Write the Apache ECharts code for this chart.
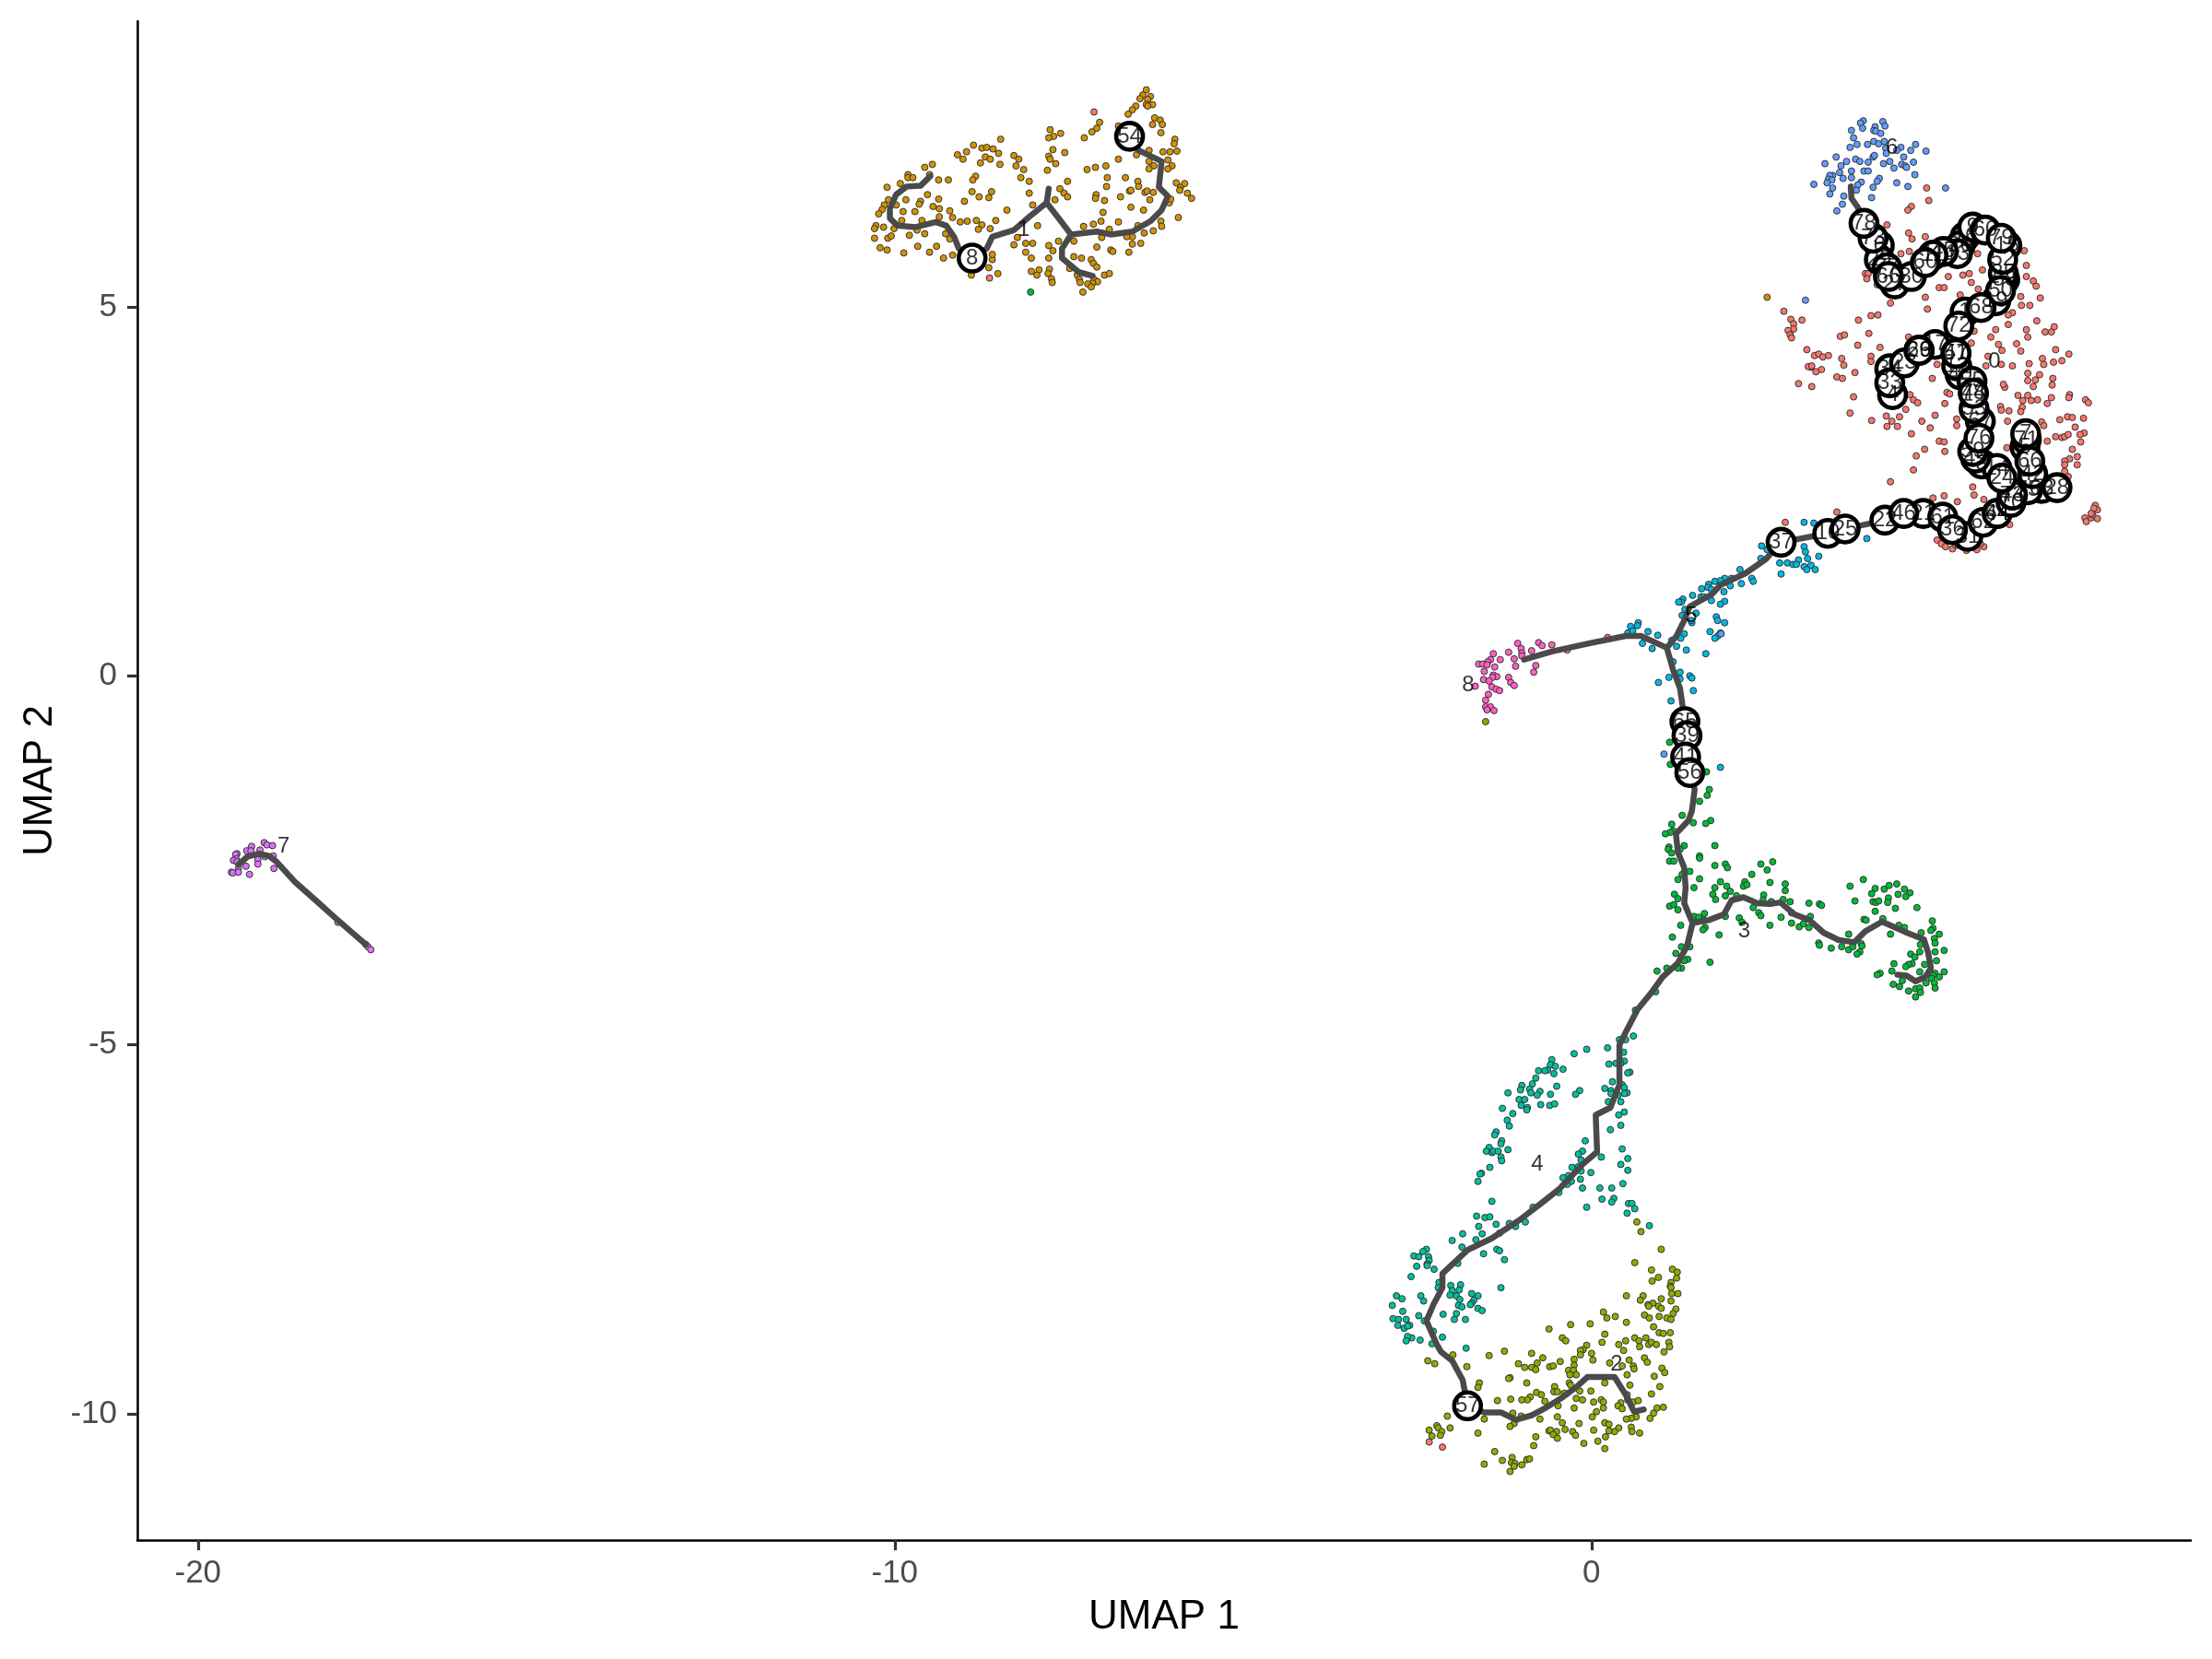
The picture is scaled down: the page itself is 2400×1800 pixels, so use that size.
<!DOCTYPE html>
<html>
<head>
<meta charset="utf-8">
<style>html,body{margin:0;padding:0;background:#fff}#c{width:2400px;height:1800px}</style>
<script src="https://cdn.jsdelivr.net/npm/echarts@6/dist/echarts.min.js"></script>
</head>
<body>
<div id="c"></div>
<script>
const xTicks = [-20, -10, 0];
const yTicks = [-10, -5, 0, 5];
const clusterColors = ['#F8766D','#D39200','#93AA00','#00BA38','#00C19F','#00B9E3','#619CFF','#DB72FB','#FF61C3'];

const cluster0 = [[4.81,6.61],[4.84,6.44],[4.59,6.36],[4.54,6.31],[4.24,6.11],[4.55,6.0],[4.60,5.92],[4.79,5.95],[4.44,5.72],[4.56,5.75],[5.12,5.41],[5.33,5.43],[5.42,5.45],[3.93,5.45],[3.97,5.45],[3.95,5.38],[4.10,5.30],[5.45,5.33],[4.99,5.26],[5.06,5.26],[5.55,5.24],[4.79,5.13],[4.82,4.97],[4.29,5.05],[5.29,5.16],[6.21,5.76],[5.54,5.72],[5.61,5.50],[6.24,5.56],[6.34,5.35],[6.38,5.28],[6.24,5.41],[6.44,5.12],[6.16,5.14],[6.29,5.02],[6.17,5.02],[6.04,4.92],[5.98,4.89],[6.39,4.81],[5.98,4.76],[5.80,4.69],[5.73,4.59],[6.24,4.69],[6.26,4.59],[6.51,4.66],[6.60,4.66],[6.64,4.73],[6.10,4.50],[6.16,4.40],[5.84,4.49],[5.89,4.41],[6.66,4.42],[6.85,4.36],[6.75,4.27],[6.47,4.30],[6.49,4.22],[6.63,4.25],[6.28,4.23],[6.04,4.20],[5.88,4.22],[5.66,4.20],[5.69,4.33],[5.45,4.51],[5.49,4.67],
[2.76,4.94],[2.86,4.83],[2.90,4.77],[2.90,4.70],[2.82,4.68],[2.85,4.62],[2.87,4.58],[3.02,4.82],[3.09,4.42],[3.20,4.34],[3.26,4.36],[3.32,4.32],[3.40,4.34],[3.57,4.60],[3.63,4.62],[3.83,4.82],[4.01,4.88],[4.11,4.89],[3.98,4.64],[3.82,4.48],[4.14,4.45],[4.01,4.33],[4.01,4.26],[3.59,4.30],[3.62,4.21],[3.15,4.18],[4.55,4.59],[4.96,4.22],
[3.30,4.15],[3.22,4.12],[3.11,4.19],[3.16,4.20],[3.52,4.05],[3.60,4.03],[3.78,4.11],[2.97,3.96],[3.16,3.92],[3.76,3.78],[3.71,3.56],[4.02,3.46],[4.23,3.52],[4.42,3.51],[4.31,3.45],[4.24,3.38],[4.39,3.38],[4.51,3.61],[4.62,3.74],[4.68,3.70],[4.57,3.81],[4.89,4.03],[5.07,3.69],[4.93,3.53],[4.74,3.45],[4.86,3.36],[4.59,3.28],[4.99,3.18],[5.06,3.17],[4.78,3.07],[4.66,2.98],[5.07,3.04],[4.62,2.79],[4.29,2.63],[5.24,3.48],[5.24,3.39],[5.10,3.84],[5.14,3.82],
[6.26,4.10],[6.43,4.08],[6.37,4.01],[6.26,4.0],[6.62,4.03],[6.61,3.94],[6.34,3.92],[5.93,3.91],[5.91,3.95],[6.12,3.80],[6.26,3.80],[6.40,3.74],[6.19,3.73],[6.31,3.73],[6.60,3.77],[6.54,3.69],[6.86,3.81],[6.85,3.77],[7.09,3.74],[7.13,3.70],[5.87,3.65],[5.88,3.60],[5.99,3.59],[6.18,3.64],[6.16,3.58],[5.97,3.45],[6.46,3.44],[6.49,3.39],[6.72,3.47],[6.83,3.51],[6.90,3.50],[7.06,3.49],[6.94,3.37],[7.07,3.29],[7.01,3.27],[7.02,3.17],[6.66,3.24],[6.75,3.23],[6.79,3.24],[6.84,3.27],[6.54,3.18],[6.90,3.07],[6.86,2.94],[6.97,2.97],[6.97,2.86],[6.79,2.91],[6.79,2.86],[6.79,2.77],[6.84,2.70],[5.96,3.09],[5.47,2.56],[5.49,2.45],[4.90,2.41],[5.06,2.44],[5.25,2.36],[5.63,2.39],[6.0,2.05],[7.08,2.14],[7.10,2.09],[7.17,2.14],[7.19,2.18],[7.23,2.31],[7.26,2.25],[7.26,2.13],[7.21,2.27],[7.17,2.20],[4.96,1.84],[5.02,1.79],[5.08,1.75],[5.18,1.72],[5.23,1.77],[5.26,1.77],[5.38,1.70],[5.53,1.71],[5.63,1.75],[5.58,1.79],[3.52,2.22],[2.78,2.08],
[-7.14,7.64],[-8.64,5.39],[-2.33,-10.38],[-2.14,-10.45]];

const cluster1 = [[-6.39,7.94],[-6.44,7.87],[-6.48,7.82],[-6.33,7.85],[-6.37,7.81],[-6.39,7.74],[-6.30,7.74],[-6.37,7.72],[-6.54,7.72],[-6.59,7.67],[-6.65,7.61],[-7.06,7.50],[-7.10,7.42],[-7.17,7.37],[-7.28,7.29],[-6.79,7.45],[-6.27,7.56],[-6.19,7.53],[-6.16,7.47],[-6.30,7.47],[-6.18,7.36],[-5.98,7.27],[-5.99,7.21],[-5.95,7.11],[-6.05,7.10],[-6.15,7.10],[-6.35,7.12],[-6.53,7.06],[-6.79,7.0],[-6.35,6.97],[-6.08,6.99],[-6.02,6.91],[-6.28,6.91],[-6.35,6.87],[-6.08,6.87],[-6.97,6.91],[-7.12,6.89],[-7.24,6.86],[-6.95,6.75],[-6.69,6.75],[-6.51,6.70],[-6.50,6.63],[-6.96,6.63],[-7.52,6.70],[-7.56,7.09],[-7.62,7.35],[-7.72,7.31],[-7.79,7.29],[-7.77,7.40],[-7.73,7.13],[-7.79,7.04],[-7.77,7.0],[-7.69,6.94],[-7.81,6.85],[-8.29,7.05],[-8.22,7.0],[-8.26,6.91],[-8.15,6.86],[-8.19,6.75],[-8.07,6.70],[-8.07,6.54],[-8.48,7.27],[-8.87,7.19],[-8.75,7.15],[-8.68,7.16],[-8.59,7.14],[-8.51,7.08],[-9.10,7.06],[-8.97,7.10],[-9.02,7.0],[-8.70,7.03],[-8.63,7.0],[-8.77,6.95],[-8.49,6.93],[-9.46,6.93],[-9.57,6.89],[-9.50,6.79],[-9.81,6.79],[-9.81,6.75],[-9.74,6.75],[-9.92,6.67],[-9.37,6.72],[-9.23,6.72],[-8.84,6.77],[-8.88,6.72],[-10.11,6.62],[-8.89,6.56],[-8.61,6.56],[-8.65,6.48],[-8.79,6.49],[-9.0,6.43],[-9.53,6.52],[-9.37,6.46],[-9.63,6.43],[-9.65,6.39],[-9.84,6.45],[-10.09,6.45],[-10.15,6.38],[-10.18,6.32],[-10.23,6.26],[-9.98,6.38],[-9.88,6.29],[-9.71,6.29],[-9.45,6.36],[-9.36,6.33],[-9.21,6.30],[-9.17,6.21],[-9.36,6.22],[-9.61,6.17],[-9.90,6.17],[-10.01,6.06],[-10.16,6.08],[-10.27,6.10],[-10.29,6.06],[-10.29,5.93],[-10.10,5.93],[-10.05,5.96],[-9.79,5.97],[-9.68,6.04],[-9.57,5.99],[-9.27,5.99],[-9.21,5.92],[-9.06,6.15],[-8.96,6.16],[-8.83,6.17],[-8.75,6.11],[-8.80,6.05],[-8.63,6.06],[-8.55,6.17],[-8.39,6.31],[-8.02,6.38],[-7.95,6.10],[-8.29,5.84],[-8.24,5.94],[-8.12,5.86],[-8.02,5.86],[-8.12,5.74],[-8.04,5.66],[-8.04,5.48],[-7.93,5.50],[-7.96,5.43],[-7.78,5.51],[-7.80,5.45],[-7.75,5.38],[-7.74,5.33],[-7.79,5.66],[-7.79,5.83],[-7.73,5.76],[-7.65,5.89],[-7.63,6.60],[-7.57,6.54],[-7.52,6.49],[-7.70,6.45],[-7.43,5.68],[-7.32,5.66],[-7.18,5.64],[-7.15,5.59],[-7.10,5.54],[-7.49,5.52],[-7.38,5.43],[-7.35,5.37],[-7.34,5.33],[-7.14,5.37],[-7.09,5.34],[-7.16,5.32],[-7.23,5.31],[-7.18,5.27],[-7.30,5.2],[-6.99,5.43],[-6.92,5.45],[-7.10,5.81],[-6.90,5.77],[-6.87,5.75],[-6.64,5.74],[-6.59,5.85],[-6.47,5.86],[-6.79,6.15],[-7.04,6.16],[-7.15,6.12],[-7.29,6.09],[-7.01,6.28],[-6.99,6.44],[-7.11,6.52],[-7.12,6.47],[-6.76,6.49],[-6.61,6.35],[-6.43,6.31],[-6.63,6.57],[-6.61,6.58],[-6.41,6.55],[-6.38,6.57],[-6.29,6.55],[-6.34,6.45],[-6.06,6.41],[-6.04,6.46],[-5.96,6.68],[-5.90,6.62],[-5.91,6.58],[-5.84,6.67],[-5.80,6.54],[-5.74,6.47],[-5.93,6.21],[-6.18,6.16],[-6.17,6.09],[-6.29,6.03],[-6.42,6.0],[-6.51,6.10],[-6.59,5.95],[-6.67,5.95],[-6.92,6.05],[-7.03,5.94],[-7.43,5.89],[-10.21,5.80],[-10.11,5.77],[-9.87,5.73],[-9.67,5.82],[-9.50,5.74],[-9.40,5.82],[-9.30,5.66],[-9.17,5.70],[-8.90,5.43],[-8.65,5.53],[-8.60,5.64],[-8.60,5.71],[-8.52,5.45],[2.52,5.13]];

const cluster2 = [[1.0,-7.77],[.62,-7.95],[.86,-8.05],[1.16,-8.04],[1.23,-8.08],[.96,-8.15],[.87,-8.20],[1.22,-8.16],[1.14,-8.22],[1.13,-8.27],[1.14,-8.29],[1.15,-8.37],[1.24,-8.37],[.74,-8.40],[.50,-8.40],[.70,-8.46],[.81,-8.52],[.88,-8.50],[1.0,-8.44],[1.14,-8.47],[.82,-8.54],[.96,-8.54],[1.0,-8.57],[1.21,-8.58],[1.17,-8.64],[.17,-8.62],[.22,-8.70],[.34,-8.68],[.50,-8.76],[.76,-8.66],[.83,-8.70],[.97,-8.68],[1.08,-8.70],[1.14,-8.72],[-.02,-8.78],[-.30,-8.79],[-.61,-8.85],[.89,-8.82],[.19,-8.92],[.97,-8.90],[1.03,-8.91],[1.13,-8.90],[.78,-8.97],[.62,-8.97],[.68,-9.01],[.49,-9.01],[.15,-9.03],[-.42,-8.97],[-.37,-9.01],[-.07,-9.07],[-.12,-9.13],[-.16,-9.14],[.39,-9.06],[.69,-9.09],[.82,-9.06],[.86,-9.03],[.93,-9.06],[1.11,-9.03],[1.12,-9.09],[.46,-9.14],[1.04,-9.16],[.0,-9.18],[-.16,-9.20],[-.25,-9.26],[.02,-9.27],[-.86,-9.18],[-1.25,-9.15],[-1.47,-9.21],[-1.99,-9.20],[-2.35,-9.28],[-2.25,-9.32],[-1.79,-9.36],[-.70,-9.24],[-.78,-9.31],[-1.05,-9.32],[-.96,-9.37],[-.86,-9.37],[-.80,-9.40],[-.60,-9.36],[-.55,-9.35],[-.45,-9.29],[-.25,-9.34],[-.33,-9.41],[-.26,-9.41],[-.22,-9.47],[.26,-9.31],[.44,-9.35],[.54,-9.27],[.60,-9.35],[.61,-9.39],[.51,-9.47],[.76,-9.24],[.80,-9.30],[1.01,-9.38],[1.05,-9.44],[.90,-9.49],[-1.17,-9.51],[-1.19,-9.52],[-.93,-9.58],[-.31,-9.47],[-.32,-9.58],[-.30,-9.61],[.19,-9.58],[.55,-9.61],[.98,-9.63],[-1.61,-9.58],[-1.63,-9.64],[-.53,-9.63],[-.54,-9.70],[-.49,-9.70],[-.79,-9.71],[-.72,-9.74],[-.88,-9.77],[-.92,-9.81],[-1.0,-9.81],[-1.16,-9.80],[-1.35,-9.82],[-.39,-9.72],[-.22,-9.79],[-.17,-9.69],[-.01,-9.69],[-.13,-9.81],[.51,-9.74],[.86,-9.73],[.03,-9.84],[.14,-9.81],[.17,-9.84],[.52,-9.81],[.60,-9.84],[.67,-9.82],[.42,-9.85],[.38,-9.89],[.44,-9.93],[-.67,-9.83],[-.48,-9.89],[-.25,-9.92],[.17,-9.92],[.07,-9.97],[.01,-10.04],[.94,-9.92],[1.03,-9.91],[.89,-9.99],[.84,-10.06],[.64,-10.04],[.57,-10.06],[.50,-10.07],[-.49,-10.04],[-.74,-10.07],[-.42,-10.12],[-.18,-10.13],[.19,-10.12],[.25,-10.14],[.39,-10.19],[.57,-10.18],[.58,-10.24],[.69,-10.26],[.33,-10.24],[.25,-10.23],[.03,-10.22],[-.38,-10.21],[-.61,-10.23],[-.59,-10.22],[-.50,-10.24],[-.55,-10.28],[-.49,-10.33],[-.27,-10.24],[-.23,-10.29],[.2,-10.31],[-.80,-10.31],[.09,-10.37],[-.11,-10.40],[-.83,-10.43],[.19,-10.47],[-1.13,-9.99],[-1.01,-10.03],[-1.54,-10.07],[-1.11,-10.13],[-1.17,-10.17],[-2.07,-10.03],[-1.63,-10.26],[-2.03,-10.19],[-2.22,-10.16],[-2.20,-10.19],[-2.33,-10.22],[-2.15,-10.24],[-2.17,-10.29],[-2.29,-10.30],[-1.39,-10.51],[-1.54,-10.68],[-1.28,-10.63],[-1.14,-10.59],[-1.15,-10.66],[-1.10,-10.67],[-1.11,-10.71],[-1.0,-10.69],[-.93,-10.62],[-.89,-10.61],[-1.17,-10.78],[.65,-7.40],[.71,-7.53],[-1.52,-.62]];

const cluster3 = [[1.69,-1.54],[1.66,-1.62],[1.55,-1.70],[1.30,-1.89],[1.71,-1.96],[1.64,-2.0],[1.46,-1.99],[1.15,-2.01],[1.17,-2.10],[1.13,-2.12],[1.06,-2.14],[1.77,-2.30],[1.33,-2.30],[1.11,-2.32],[1.10,-2.35],[1.15,-2.40],[1.27,-2.35],[1.55,-2.44],[1.55,-2.47],[1.12,-2.51],[1.18,-2.51],[1.77,-2.57],[1.92,-2.55],[1.95,-2.60],[1.41,-2.65],[1.30,-2.69],[1.24,-2.76],[1.55,-2.75],[2.43,-2.55],[2.60,-2.52],[2.52,-2.63],[2.30,-2.69],[2.56,-2.80],[2.78,-2.82],[2.78,-2.91],[1.85,-2.79],[1.94,-2.85],[2.20,-2.79],[2.18,-2.85],[2.23,-2.83],[1.77,-2.87],[1.47,-2.87],[1.99,-2.92],[1.74,-2.96],[1.78,-3.03],[1.92,-2.98],[1.19,-2.96],[1.24,-3.02],[2.08,-2.98],[2.47,-2.97],[2.46,-3.04],[2.58,-3.06],[2.75,-3.03],[2.85,-3.06],[3.12,-3.08],[3.27,-3.09],[3.30,-3.11],[3.71,-2.85],[3.90,-2.76],[4.07,-2.88],[4.02,-2.95],[4.20,-2.89],[4.27,-2.84],[4.38,-2.82],[4.49,-2.89],[4.57,-2.94],[4.51,-2.99],[4.40,-2.96],[3.78,-3.05],[4.04,-3.06],[4.08,-3.07],[4.12,-3.05],[4.26,-3.01],[4.25,-3.07],[4.36,-3.15],[4.67,-3.14],[4.07,-3.19],[1.12,-3.12],[1.18,-3.10],[1.24,-3.17],[2.32,-3.14],[2.40,-3.21],[2.43,-3.25],[2.72,-3.27],[2.87,-3.21],[3.14,-3.26],[2.87,-3.35],[2.98,-3.40],[3.04,-3.36],[3.12,-3.41],[2.56,-3.38],[2.12,-3.28],[2.16,-3.34],[1.62,-3.22],[1.47,-3.26],[1.54,-3.27],[1.61,-3.31],[1.63,-3.41],[1.60,-3.44],[1.28,-3.38],[1.83,-3.51],[1.16,-3.54],[1.92,-3.26],[1.29,-3.67],[1.41,-3.67],[1.21,-3.76],[1.38,-3.84],[1.33,-3.86],[1.70,-3.88],[1.29,-3.96],[1.24,-3.96],[1.08,-3.96],[.94,-4.0],[.92,-4.28],[.63,-4.53],[3.26,-3.62],[3.27,-3.65],[3.44,-3.69],[3.59,-3.67],[3.69,-3.50],[3.69,-3.71],[3.75,-3.67],[3.87,-3.63],[3.88,-3.66],[3.85,-3.74],[3.81,-3.77],[3.91,-3.30],[3.94,-3.31],[4.18,-3.29],[4.29,-3.50],[4.41,-3.38],[4.49,-3.41],[4.89,-3.32],[4.90,-3.42],[4.87,-3.45],[4.73,-3.48],[4.99,-3.50],[4.92,-3.56],[4.93,-3.62],[4.72,-3.64],[5.06,-3.72],[4.93,-3.74],[4.71,-3.74],[4.58,-3.77],[4.64,-3.81],[4.95,-3.86],[4.60,-3.90],[4.55,-3.91],[4.51,-3.94],[4.78,-3.91],[4.34,-3.90],[4.31,-4.0],[4.14,-4.03],[4.10,-4.05],[4.71,-4.01],[4.93,-4.03],[5.06,-4.01],[4.99,-4.08],[4.90,-4.06],[4.88,-4.10],[4.92,-4.16],[4.93,-4.23],[4.80,-4.16],[4.46,-4.13],[4.33,-4.18],[4.42,-4.21],[4.55,-4.27],[4.65,-4.24],[4.71,-4.23],[4.72,-4.29],[4.65,-4.35],[-8.05,5.20],[1.12,-.90],[1.13,-1.2],[1.65,-1.30]];

const cluster4 = [[.60,-4.88],[.49,-4.93],[.40,-4.93],[.23,-5.04],[.46,-5.10],[-.07,-5.06],[-.25,-5.12],[.47,-5.22],[.42,-5.25],[.35,-5.25],[.25,-5.26],[-.57,-5.20],[-.59,-5.27],[-.52,-5.29],[-.41,-5.33],[-.76,-5.35],[-.63,-5.34],[-.67,-5.35],[-.54,-5.39],[.55,-5.37],[.52,-5.38],[-.80,-5.45],[.30,-5.50],[-.85,-5.53],[-1.0,-5.55],[-.50,-5.56],[-.89,-5.60],[-1.02,-5.61],[.19,-5.59],[.44,-5.54],[.47,-5.58],[.28,-5.62],[.28,-5.66],[.51,-5.65],[.47,-5.66],[.38,-5.68],[-.74,-5.63],[-.78,-5.68],[-.87,-5.65],[-.17,-5.62],[-.23,-5.67],[-.59,-5.67],[-1.20,-5.65],[-1.04,-5.74],[-.96,-5.74],[.24,-5.77],[.42,-5.77],[-.73,-5.81],[-.60,-5.82],[-.53,-5.80],[-1.01,-5.82],[-.92,-5.85],[-.93,-5.88],[-1.28,-5.86],[-1.13,-5.93],[.47,-5.91],[.39,-5.95],[-1.21,-6.02],[-1.18,-6.10],[.42,-6.09],[.27,-6.15],[-1.37,-6.18],[-1.39,-6.22],[-.09,-6.30],[-1.29,-6.30],[-1.30,-6.34],[-1.47,-6.39],[-1.51,-6.44],[-1.43,-6.46],[-1.41,-6.44],[-1.34,-6.44],[-1.20,-6.42],[.44,-6.41],[-.13,-6.44],[-.19,-6.48],[-1.30,-6.52],[-1.29,-6.57],[-.15,-6.56],[.14,-6.52],[.52,-6.54],[.42,-6.62],[.52,-6.70],[-1.46,-6.66],[-1.58,-6.74],[-1.60,-6.75],[-1.63,-6.85],[-.28,-6.66],[-.19,-6.65],[-.15,-6.71],[-.01,-6.73],[-.33,-6.77],[-.41,-6.80],[-.29,-6.85],[-.16,-6.82],[-.35,-6.89],[-.13,-6.94],[.12,-6.94],[.29,-6.94],[.45,-6.88],[-.47,-7.0],[-1.43,-7.12],[.15,-7.09],[.32,-7.08],[.29,-7.13],[-.07,-7.20],[.53,-7.15],[.58,-7.15],[.62,-7.22],[.51,-7.28],[-.84,-7.20],[-1.65,-7.32],[-1.53,-7.34],[-1.46,-7.33],[-1.37,-7.43],[-1.18,-7.42],[-1.09,-7.46],[-.95,-7.40],[-1.62,-7.46],[-1.57,-7.56],[-1.85,-7.56],[-2.0,-7.65],[-1.66,-7.64],[-1.86,-7.74],[-1.32,-7.55],[.83,-7.45],[-1.36,-7.77],[-1.32,-7.79],[-1.55,-7.83],[-1.25,-7.91],[-2.37,-7.77],[-2.42,-7.80],[-2.55,-7.86],[-2.48,-7.87],[-2.34,-7.87],[-2.33,-7.92],[-2.36,-7.97],[-2.36,-7.99],[-2.51,-8.0],[-2.26,-8.04],[-1.92,-7.96],
[-2.59,-8.14],[-1.30,-8.29],[-2.02,-8.26],[-1.88,-8.25],[-2.19,-8.22],[-2.20,-8.29],[-2.0,-8.33],[-1.90,-8.32],[-2.03,-8.39],[-1.94,-8.40],[-1.89,-8.45],[-1.72,-8.37],[-1.63,-8.40],[-1.69,-8.46],[-1.72,-8.50],[-1.74,-8.52],[-1.91,-8.53],[-1.86,-8.55],[-2.80,-8.40],[-2.72,-8.44],[-2.45,-8.40],[-2.41,-8.47],[-2.86,-8.53],[-2.71,-8.61],[-2.13,-8.65],[-1.94,-8.64],[-1.97,-8.72],[-1.63,-8.57],[-1.57,-8.60],[-1.81,-8.72],[-2.48,-8.67],[-2.85,-8.71],[-2.77,-8.72],[-2.66,-8.72],[-2.40,-8.74],[-2.78,-8.80],[-2.61,-8.80],[-2.69,-8.84],[-2.64,-8.81],[-2.27,-8.88],[-2.58,-8.97],[-2.64,-8.95],[-2.66,-9.01],[-2.46,-9.0],[-2.14,-8.96],[-2.29,-9.05],[-1.80,-9.11]];

const cluster5 = [[3.05,2.08],[3.19,2.07],[2.44,1.76],[2.52,1.71],[3.05,1.75],[3.07,1.68],[3.26,1.62],[3.10,1.59],[2.97,1.57],[2.43,1.59],[2.70,1.53],[2.81,1.53],[2.89,1.51],[2.94,1.51],[3.05,1.48],[3.09,1.44],[3.15,1.50],[3.21,1.44],[2.72,1.38],[2.13,1.44],[2.30,1.32],[2.32,1.28],[2.15,1.25],[2.01,1.32],[1.99,1.22],[1.91,1.32],[1.85,1.29],[1.77,1.28],[1.68,1.24],[1.67,1.20],[1.58,1.18],[1.90,1.14],[1.72,1.17],[1.57,1.07],[1.61,1.07],[1.72,1.02],[1.45,1.09],[1.91,1.01],[1.85,.97],[1.31,1.04],[1.29,1.0],[1.25,1.0],[1.34,.90],[1.30,.82],[1.50,.85],[1.44,.72],[1.43,.75],[1.79,.80],[1.81,.75],[1.91,.72],[.56,.67],[.67,.72],[.66,.68],[.52,.58],[.59,.61],[.81,.60],[.95,.55],[.73,.44],[.87,.37],[1.33,.57],[1.28,.51],[1.15,.48],[1.70,.60],[1.85,.58],[1.81,.54],[1.77,.51],[1.36,.35],[1.22,.40],[1.64,.30],[1.17,.19],[1.27,.05],[1.41,0.0],[1.44,-.03],[1.11,-.02],[1.27,-.04],[.96,-.09],[1.46,-.20],[1.14,-.34],[1.85,-1.24],[3.95,1.86]];

const cluster6 = [[3.90,7.52],[3.86,7.49],[4.18,7.51],[4.21,7.45],[3.73,7.39],[3.89,7.42],[4.07,7.44],[4.05,7.39],[4.08,7.38],[4.15,7.35],[3.76,7.29],[3.81,7.20],[3.71,7.16],[3.96,7.20],[4.05,7.24],[4.12,7.21],[4.20,7.24],[4.22,7.15],[4.44,7.16],[4.38,7.12],[4.58,7.12],[4.65,7.20],[4.80,7.11],[4.23,7.08],[3.51,7.03],[3.35,6.94],[3.66,6.97],[3.79,7.0],[3.85,6.97],[3.58,6.91],[3.97,6.96],[4.04,7.03],[4.06,7.05],[4.19,6.94],[4.28,6.97],[4.48,7.03],[4.62,6.96],[4.45,6.93],[4.50,6.91],[4.52,6.89],[4.34,6.88],[3.91,6.84],[3.97,6.84],[3.73,6.84],[3.56,6.82],[3.46,6.78],[3.42,6.78],[3.40,6.73],[3.45,6.72],[3.38,6.68],[3.61,6.74],[3.73,6.75],[3.87,6.69],[3.82,6.65],[4.13,6.74],[4.10,6.70],[4.38,6.68],[4.54,6.63],[4.64,6.79],[3.19,6.66],[3.46,6.61],[3.42,6.53],[4.04,6.62],[3.80,6.58],[3.62,6.50],[4.02,6.48],[3.60,6.39],[3.52,6.30],[5.08,6.61],[3.07,5.09],[1.86,.57],[1.04,-1.06]];

const cluster7 = [[-19.05,-2.26],[-19.01,-2.29],[-18.93,-2.30],[-19.23,-2.31],[-19.11,-2.36],[-19.30,-2.37],[-19.24,-2.37],[-19.44,-2.41],[-19.46,-2.42],[-19.45,-2.48],[-19.49,-2.50],[-19.44,-2.52],[-19.14,-2.49],[-19.14,-2.55],[-18.92,-2.44],[-19.04,-2.45],[-19.31,-2.58],[-19.42,-2.61],[-19.52,-2.66],[-19.50,-2.67],[-19.42,-2.66],[-19.26,-2.69],[-18.91,-2.61],[-17.59,-3.64],[-17.56,-3.67],[-17.52,-3.71],[-17.99,-3.34]];

const cluster8 = [[-1.06,.44],[-1.19,.32],[-1.01,.37],[-1.0,.31],[-1.0,.27],[-.86,.34],[-.76,.45],[-.71,.41],[-.57,.42],[-.35,.35],[.23,.52],[-1.41,.30],[-1.31,.22],[-1.45,.22],[-1.49,.19],[-1.62,.16],[-1.56,.16],[-1.50,.15],[-1.39,.12],[-1.11,.23],[-1.09,.13],[-.80,.14],[-.83,.05],[-1.54,.06],[-1.41,.01],[-1.36,-.01],[-1.42,-.02],[-1.19,-.02],[-1.55,-.05],[-1.47,-.07],[-1.16,-.09],[-1.11,-.13],[-1.43,-.15],[-1.37,-.18],[-1.32,-.20],[-1.67,-.14],[-1.48,-.25],[-1.52,-.33],[-1.52,-.42],[-1.45,-.42],[-1.50,-.46],[-1.40,-.47]];

const clusters = [cluster0, cluster1, cluster2, cluster3, cluster4, cluster5, cluster6, cluster7, cluster8];

// principal graph branches
const pathTopA = [[-9.49,6.77],[-9.63,6.64],[-9.83,6.63],[-9.98,6.52],[-10.07,6.33],[-10.07,6.20],[-9.96,6.10],[-9.70,6.08],[-9.41,6.15],[-9.26,6.10],[-9.15,5.95],[-9.08,5.79],[-8.89,5.66],[-8.68,5.79],[-8.60,5.95],[-8.29,6.04],[-8.07,6.22],[-7.82,6.41],[-7.79,6.60]];
const pathTopB = [[-7.82,6.41],[-7.63,6.18],[-7.47,5.98],[-7.10,6.02],[-6.90,5.98],[-6.59,6.02],[-6.33,6.16],[-6.17,6.31],[-6.08,6.50],[-6.21,6.62],[-6.17,6.97],[-6.32,7.04],[-6.50,7.12],[-6.63,7.31]];
const pathTopC = [[-7.47,5.98],[-7.60,5.79],[-7.60,5.66],[-7.36,5.47],[-7.16,5.42]];
const pathLeft = [[-19.42,-2.56],[-19.29,-2.45],[-19.13,-2.41],[-18.98,-2.44],[-18.87,-2.52],[-18.61,-2.79],[-18.30,-3.05],[-18.03,-3.28],[-17.81,-3.46],[-17.59,-3.64]];
const pathPink = [[-.97,.22],[-.57,.33],[-.04,.44],[.49,.54],[.71,.54],[1.08,.38]];
const pathUp = [[1.08,.38],[1.22,.54],[1.33,.75],[1.41,.94],[1.72,1.10],[1.85,1.23],[2.21,1.39],[2.50,1.58],[2.72,1.81],[3.39,1.93],[3.64,1.99],[4.21,2.11],[4.48,2.20],[4.76,2.20],[5.04,2.15],[5.18,1.98],[5.40,1.89],[5.62,2.08],[5.82,2.20],[6.02,2.35],[6.04,2.45],[5.89,2.68],[5.82,2.81],[5.60,2.87],[5.51,2.95],[5.47,3.04],[5.56,3.22],[5.58,3.45],[5.49,3.62],[5.48,3.83],[5.46,3.99],[5.29,4.08],[5.24,4.20],[5.23,4.37],[5.27,4.74],[5.36,4.93],[5.59,4.99],[5.80,5.08],[5.87,5.22],[5.93,5.37],[5.91,5.45],[5.90,5.64],[5.96,5.83],[5.88,5.93],[5.65,6.04],[5.47,6.08],[5.36,5.95],[5.29,5.83],[5.25,5.72],[5.05,5.75],[4.90,5.70],[4.79,5.60],[4.59,5.41],[4.35,5.31],[4.26,5.41],[4.24,5.53],[4.13,5.64],[4.13,5.83],[4.04,5.93],[3.91,6.13],[3.82,6.35],[3.73,6.47],[3.72,6.63]];
const pathRedB = [[5.23,4.37],[4.93,4.49],[4.70,4.41],[4.49,4.24],[4.28,4.16],[4.28,3.97],[4.32,3.81]];
const pathRedC = [[6.02,2.35],[6.26,2.52],[6.46,2.54],[6.68,2.55]];
const pathRedD = [[6.26,2.52],[6.33,2.74],[6.29,2.91],[6.22,3.10],[6.24,3.20],[6.23,3.28]];
const pathDown = [[1.08,.38],[1.17,.08],[1.27,-.17],[1.34,-.62],[1.37,-.81],[1.35,-1.10],[1.41,-1.31],[1.48,-1.54],[1.44,-1.83],[1.39,-1.96],[1.21,-2.14],[1.24,-2.39],[1.33,-2.60],[1.35,-2.87],[1.33,-3.08],[1.45,-3.35],[1.37,-3.66],[1.24,-3.89],[1.02,-4.08],[.86,-4.29],[.66,-4.52],[.49,-4.83],[.40,-5.0],[.40,-5.54],[.27,-5.85],[.06,-5.95],[.08,-6.45],[-.13,-6.62],[-.46,-6.95],[-.66,-7.10],[-1.03,-7.37],[-1.43,-7.62],[-1.78,-7.78],[-2.14,-8.10],[-2.14,-8.29],[-2.27,-8.52],[-2.37,-8.74],[-2.22,-9.06],[-2.16,-9.16],[-2.0,-9.28],[-1.85,-9.54],[-1.78,-9.89],[-1.54,-9.98],[-1.30,-9.98],[-1.08,-10.08],[-.86,-10.02],[-.68,-9.93],[-.44,-9.79],[-.22,-9.64],[-.06,-9.50],[.33,-9.50],[.49,-9.74],[.61,-9.97],[.75,-9.94]];
const pathGreen = [[1.45,-3.35],[1.68,-3.31],[1.90,-3.23],[2.01,-3.04],[2.18,-3.0],[2.38,-3.08],[2.56,-3.09],[2.71,-3.07],[2.91,-3.23],[3.13,-3.31],[3.33,-3.48],[3.55,-3.58],[3.77,-3.61],[3.93,-3.46],[4.17,-3.33],[4.50,-3.47],[4.77,-3.57],[4.83,-3.75],[4.87,-3.96],[4.79,-4.08],[4.65,-4.14],[4.52,-4.06],[4.39,-4.05]];
const paths = [pathTopA, pathTopB, pathTopC, pathLeft, pathPink, pathUp, pathRedB, pathRedC, pathRedD, pathDown, pathGreen];

// graph nodes, listed bottom-most first
const nodeLabels = ['8','54','57','65','39','41','56',
 '31','3','14','27','6','16','20','13','45','9','11','30','19','58','35','15','29','34','40','12','49','59','4','64','63','5','71','75','17','7','1','37','10','25','21','22','46','61','36','62','44','70','74','42','28','43','24','66','67','53','55','48','76','74','51','33','23','26','47','69','60','52','50','68','72','79','73','77','66','60','78'];
const nodeX = [-8.89,-6.63,-1.78,1.34,1.37,1.35,1.41,
 5.40,5.60,5.82,4.35,4.13,5.36,5.29,5.25,5.05,5.47,4.90,4.59,5.80,5.93,5.91,5.96,4.13,4.28,5.29,5.24,5.51,5.47,4.32,5.82,6.46,6.22,6.24,6.26,4.93,6.23,5.36,2.72,3.39,3.64,4.76,4.21,4.48,5.04,5.18,5.62,5.82,6.02,6.04,6.33,6.68,6.04,5.89,6.29,5.58,5.49,5.46,5.48,5.56,5.48,5.23,4.28,4.49,4.70,5.23,4.70,5.65,5.90,5.87,5.59,5.27,5.88,4.04,4.24,4.26,4.79,3.91];
const nodeY = [5.66,7.31,-9.89,-.62,-.81,-1.10,-1.31,
 1.89,2.87,2.81,5.31,5.83,5.95,5.83,5.72,5.75,6.08,5.70,5.41,5.08,5.37,5.45,5.83,5.64,4.16,4.08,4.20,2.95,3.04,3.81,2.20,2.54,3.10,3.20,2.52,4.49,3.28,4.93,1.81,1.93,1.99,2.20,2.11,2.20,2.15,1.98,2.08,2.20,2.35,2.45,2.74,2.55,2.45,2.68,2.91,3.45,3.62,3.99,3.83,3.22,3.83,4.37,3.97,4.24,4.41,4.37,4.41,6.04,5.64,5.22,4.99,4.74,5.93,5.93,5.53,5.41,5.60,6.13];

const clusterLabels = ['0','1','2','3','4','5','6','7','8'];
const clusterLabelX = [5.78,-8.15,.36,2.19,-.78,1.43,4.31,-18.77,-1.77];
const clusterLabelY = [4.26,6.04,-9.33,-3.46,-6.62,.81,7.15,-2.31,-.13];

const font = 'Liberation Sans';
const textLabel = (text) => ({
  show: true, position: 'inside', formatter: text, color: '#000000', fontSize: 24,
  fontFamily: font, textBorderWidth: 0, textBorderColor: 'transparent'
});
const series = [];
clusters.forEach((d, i) => series.push({
  type: 'scatter', data: d, symbol: 'circle', symbolSize: 7, z: 2, silent: true,
  itemStyle: { color: clusterColors[i], borderColor: '#333333', borderWidth: 1, opacity: 1 }
}));
paths.forEach(d => series.push({
  type: 'line', data: d, showSymbol: false, z: 3, silent: true, smooth: false,
  lineStyle: { color: '#4a4a4a', width: 6.5, cap: 'round', join: 'round' }
}));
series.push({
  type: 'scatter', z: 4, silent: true, symbol: 'circle', symbolSize: 29,
  data: nodeX.map((x, i) => [x, nodeY[i]]),
  itemStyle: { color: '#ffffff', borderColor: '#000000', borderWidth: 4.6, opacity: 1 }
});
series.push({
  type: 'scatter', z: 5, silent: true, symbol: 'circle', symbolSize: 1,
  itemStyle: { color: 'rgba(0,0,0,0)' },
  data: nodeX.map((x, i) => ({ value: [x, nodeY[i]], label: textLabel(nodeLabels[i]) }))
});
series.push({
  type: 'scatter', z: 5, silent: true, symbol: 'circle', symbolSize: 1,
  itemStyle: { color: 'rgba(0,0,0,0)' },
  data: clusterLabelX.map((x, i) => ({ value: [x, clusterLabelY[i]], label: textLabel(clusterLabels[i]) }))
});

const chart = echarts.init(document.getElementById('c'), null, { renderer: 'canvas', width: 2400, height: 1800 });
chart.setOption({
  animation: false,
  backgroundColor: '#ffffff',
  grid: { left: 149, right: 23, top: 23, bottom: 129, containLabel: false },
  xAxis: {
    type: 'value', min: -20.87, max: 8.60, name: 'UMAP 1', nameLocation: 'center', nameGap: 62,
    nameTextStyle: { color: '#000', fontSize: 44, fontFamily: font },
    axisLine: { onZero: false, lineStyle: { color: '#000', width: 2.5 } },
    axisTick: { length: 11, customValues: xTicks, lineStyle: { color: '#333', width: 3.2 } },
    axisLabel: { customValues: xTicks, color: '#4d4d4d', fontSize: 35, fontFamily: font, margin: 19 },
    splitLine: { show: false }
  },
  yAxis: {
    type: 'value', min: -11.71, max: 8.87, name: 'UMAP 2', nameLocation: 'center', nameGap: 83,
    nameTextStyle: { color: '#000', fontSize: 44, fontFamily: font },
    axisLine: { onZero: false, lineStyle: { color: '#000', width: 2.5 } },
    axisTick: { length: 11, customValues: yTicks, lineStyle: { color: '#333', width: 3.2 } },
    axisLabel: { customValues: yTicks, color: '#4d4d4d', fontSize: 35, fontFamily: font, margin: 22 },
    splitLine: { show: false }
  },
  series: series
});
</script>
</body>
</html>
